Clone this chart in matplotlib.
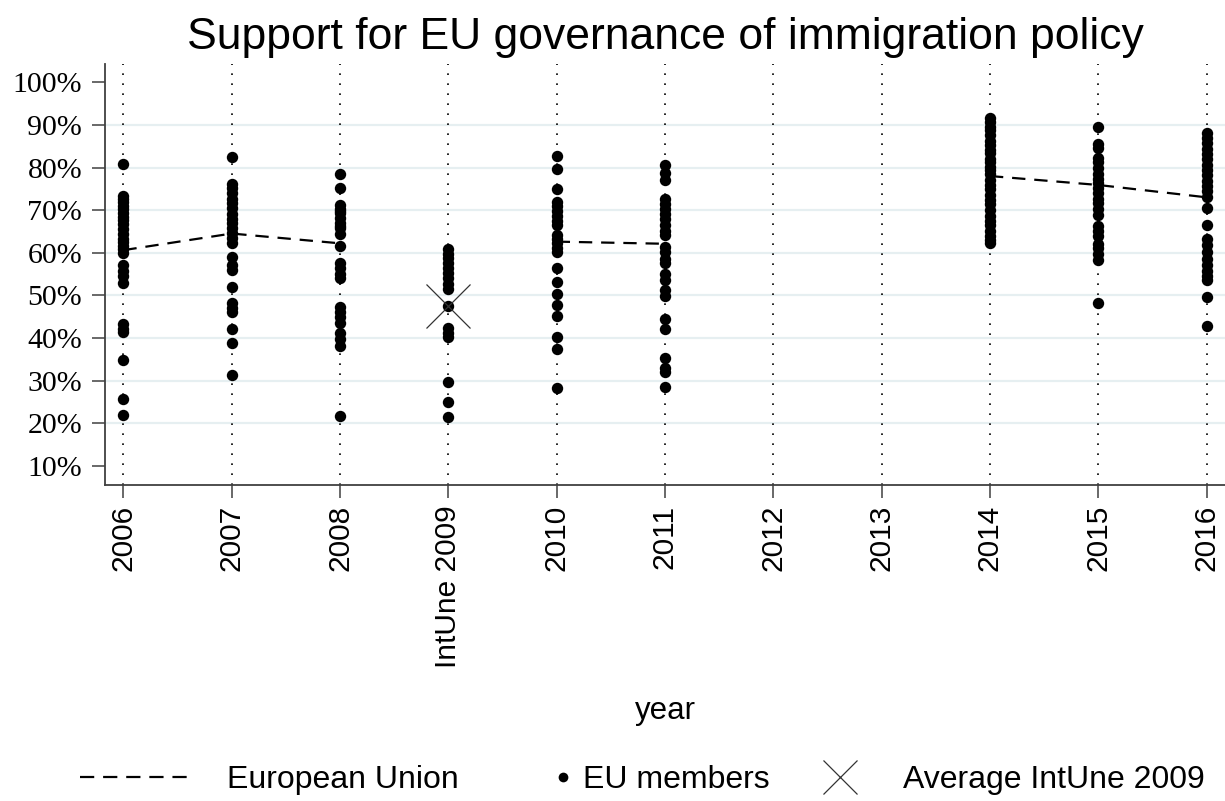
import numpy as np
import matplotlib.pyplot as plt
from matplotlib.lines import Line2D

plt.rcParams["font.family"] = "Liberation Sans"

years = [2006, 2007, 2008, 2009, 2010, 2011, 2012, 2013, 2014, 2015, 2016]
year_labels = ["2006", "2007", "2008", "IntUne 2009", "2010", "2011",
               "2012", "2013", "2014", "2015", "2016"]

# EU-wide share (no survey in 2009, 2012, 2013)
eu_avg = [60.6, 64.5, 62.2, np.nan, 62.6, 62.1, np.nan, np.nan, 78.0, 75.9, 73.0]

# country shares per survey year
members_2006 = [80.8, 73.3, 72.6, 71.9, 71.0, 70.2, 69.4, 68.5, 67.6, 66.8, 65.6,
                64.3, 63.2, 62.4, 61.6, 60.8, 60.0, 57.2, 55.8, 54.5, 53.0,
                43.2, 42.1, 41.3, 34.7, 25.7, 21.9]
members_2007 = [82.5, 76.2, 75.2, 74.0, 72.6, 71.6, 70.5, 69.2, 68.0, 66.9, 65.8,
                64.6, 63.5, 62.3, 59.1, 57.0, 56.0, 51.9, 48.3, 47.0, 46.0,
                42.0, 38.9, 31.2]
members_2008 = [78.5, 75.3, 71.3, 70.3, 69.8, 69.3, 68.2, 67.0, 66.2, 65.8, 64.4,
                61.6, 57.6, 56.5, 55.1, 54.0, 47.3, 46.0, 44.8, 43.5, 41.2,
                39.8, 38.2, 21.7]
members_2009 = [60.8, 59.8, 58.7, 57.6, 56.5, 55.3, 54.0, 52.6, 51.4, 47.6,
                42.3, 41.2, 40.1, 29.6, 25.0, 21.4]
members_2010 = [82.7, 79.6, 74.9, 71.9, 70.9, 69.8, 68.6, 67.5, 66.5, 64.2, 63.2,
                62.2, 61.2, 60.2, 56.5, 53.2, 50.3, 47.7, 45.1, 40.3, 37.4, 28.2]
members_2011 = [80.6, 78.6, 77.1, 72.6, 71.4, 70.2, 69.0, 67.8, 66.5, 65.0, 64.2,
                61.4, 60.2, 58.6, 57.6, 55.0, 53.5, 51.3, 49.8, 44.4, 42.2,
                35.4, 33.0, 31.9, 28.5]
members_2014 = [91.6, 90.8, 89.5, 88.9, 87.6, 86.2, 85.4, 84.1, 83.3, 82.0, 81.2,
                80.1, 79.3, 78.4, 77.0, 75.8, 74.9, 73.5, 72.3, 71.4, 70.0,
                68.7, 67.5, 66.4, 65.1, 64.0, 63.1, 62.2]
members_2015 = [89.4, 85.6, 84.5, 82.3, 81.2, 79.9, 78.5, 77.3, 76.4, 75.2, 74.0,
                72.6, 71.7, 70.3, 68.9, 66.3, 65.1, 63.9, 62.1, 61.0, 59.8,
                58.2, 48.1]
members_2016 = [88.2, 87.0, 85.8, 84.4, 83.1, 82.0, 80.7, 79.4, 78.2, 76.9, 75.6,
                74.5, 73.1, 70.4, 66.5, 63.2, 61.8, 60.1, 58.6, 57.1, 55.8,
                54.6, 53.6, 49.5, 42.8]

members = {2006: members_2006, 2007: members_2007, 2008: members_2008,
           2009: members_2009, 2010: members_2010, 2011: members_2011,
           2014: members_2014, 2015: members_2015, 2016: members_2016}

intune_avg_2009 = 47.6

fig = plt.figure(figsize=(12.25, 8.01), dpi=100)
ax = fig.add_axes([105 / 1225, 316 / 801, 1120 / 1225, 421 / 801])

# dotted guide at every year
for yr in years:
    ax.axvline(yr, color="black", lw=1.2, linestyle=(0, (1, 5)), zorder=1)

ax.plot(years, eu_avg, color="black", lw=1.6, dashes=(6, 4), zorder=2)

xs = [yr for yr, vals in members.items() for _ in vals]
ys = [v for vals in members.values() for v in vals]
ax.plot(xs, ys, "o", ms=8.2, mew=0, color="black", zorder=3)

ax.plot([2009], [intune_avg_2009], marker="x", ms=32, mew=0.9,
        color="#333333", linestyle="none", zorder=4)

ax.set_xlim(2005.83, 2016.17)
ax.set_ylim(5.47, 104.3)

yticks = list(range(10, 101, 10))
ax.set_yticks(yticks)
ax.set_yticklabels([f"{t}%" for t in yticks], fontfamily="Liberation Serif")
ax.set_xticks(years)
ax.set_xticklabels(year_labels, rotation=90)

ax.yaxis.grid(True, color="#e6eff1", lw=1.6)
ax.set_axisbelow(True)
gl = ax.get_ygridlines()
gl[0].set_visible(False)
gl[-1].set_visible(False)

for side in ["top", "right"]:
    ax.spines[side].set_visible(False)
for side in ["left", "bottom"]:
    ax.spines[side].set_color("#404040")
    ax.spines[side].set_linewidth(1.3)

ax.tick_params(axis="both", length=9.4, width=1.1, color="#404040")
ax.tick_params(axis="y", labelsize=21.5, pad=7)
ax.tick_params(axis="x", labelsize=21.5, pad=5)

ax.set_title("Support for EU governance of immigration policy", fontsize=32, pad=11)
ax.set_xlabel("year", fontsize=22.5)
ax.xaxis.set_label_coords(0.5, -0.50)

# legend entries laid out in one row below the axes
leg_y = 1 - 780 / 801
common = dict(loc="center left", frameon=False, fontsize=23,
              borderpad=0, borderaxespad=0)
fig.legend(handles=[Line2D([], [], color="black", lw=1.6, dashes=(6.4, 4))],
           labels=["European Union"], bbox_to_anchor=(80 / 1225, leg_y),
           handlelength=3.6, handletextpad=1.0, **common)
fig.legend(handles=[Line2D([], [], marker="o", ms=7, mew=0, color="black",
                           linestyle="none")],
           labels=["EU members"], bbox_to_anchor=(555 / 1225, leg_y),
           handlelength=0.5, handletextpad=0.375, **common)
fig.legend(handles=[Line2D([], [], marker="x", ms=24, mew=0.9, color="#333333",
                           linestyle="none")],
           labels=["Average IntUne 2009"], bbox_to_anchor=(820 / 1225, leg_y),
           handlelength=1.25, handletextpad=1.34, **common)

fig.savefig("out.png", dpi=100)
